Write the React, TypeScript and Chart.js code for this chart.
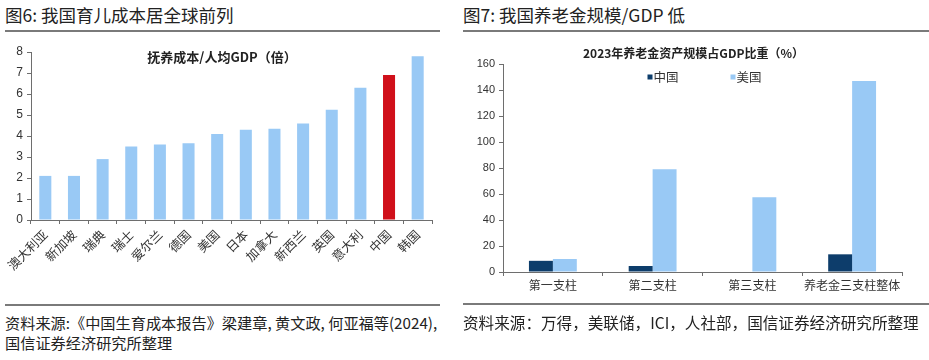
import React, { useEffect, useRef } from "react";
import { Chart, registerables } from "chart.js";

Chart.register(...registerables);

const FONT = '"Liberation Sans", "Noto Sans CJK SC", sans-serif';
const CJK = '"Noto Sans CJK SC", "Liberation Sans", sans-serif';

// Figure 6 data
const countries = ["澳大利亚", "新加坡", "瑞典", "瑞士", "爱尔兰", "德国", "美国", "日本", "加拿大", "新西兰", "英国", "意大利", "中国", "韩国"];
const costRatio = [2.1, 2.1, 2.9, 3.5, 3.6, 3.65, 4.1, 4.3, 4.35, 4.6, 5.25, 6.3, 6.9, 7.8];
const costTicks = [0, 1, 2, 3, 4, 5, 6, 7, 8];

// Figure 7 data
const pillars = ["第一支柱", "第二支柱", "第三支柱", "养老金三支柱整体"];
const chinaPension = [8.6, 4.6, 0, 13.6];
const usPension = [10, 79, 57.5, 147];
const pensionTicks = [0, 20, 40, 60, 80, 100, 120, 140, 160];

const LIGHT = "#99c9f5";
const RED = "#d0101a";
const NAVY = "#0d3d6b";
const AXIS = "#6e6e6e";
const TEXT = "#333333";

function LeftChart() {
  const ref = useRef<HTMLCanvasElement>(null);
  useEffect(() => {
    const titlePlugin = {
      id: "innerTitle",
      afterDraw(chart: any) {
        const ctx = chart.ctx;
        ctx.save();
        ctx.font = `bold 13px ${CJK}`;
        ctx.fillStyle = "#222";
        ctx.textAlign = "center";
        ctx.textBaseline = "middle";
        ctx.fillText("抚养成本/人均GDP（倍）", 222, 17);
        ctx.restore();
      },
    };
    const chart = new Chart(ref.current!, {
      type: "bar",
      data: {
        labels: countries,
        datasets: [
          {
            data: costRatio,
            backgroundColor: countries.map((c) => (c === "中国" ? RED : LIGHT)),
            barPercentage: 0.42,
            categoryPercentage: 1,
          },
        ],
      },
      options: {
        animation: false,
        responsive: false,
        maintainAspectRatio: false,
        layout: { padding: { top: 12, right: 13, left: 0, bottom: 0 } },
        plugins: { legend: { display: false }, tooltip: { enabled: false }, title: { display: false } },
        scales: {
          x: {
            grid: { display: true, drawOnChartArea: false, drawTicks: true, tickLength: 4, color: AXIS, offset: true },
            border: { display: true, color: AXIS, width: 1 },
            ticks: { minRotation: 45, maxRotation: 45, color: TEXT, font: { family: CJK, size: 12.5 }, padding: 3 },
            afterFit: (s: any) => { s.height = 80; },
          },
          y: {
            min: 0,
            max: 8,
            afterBuildTicks: (s: any) => { s.ticks = costTicks.map((v) => ({ value: v })); },
            grid: { display: true, drawOnChartArea: false, drawTicks: true, tickLength: 4, color: AXIS },
            border: { display: true, color: AXIS, width: 1 },
            ticks: { color: TEXT, font: { family: FONT, size: 12 }, padding: 4 },
            afterFit: (s: any) => { s.width = 31; },
          },
        },
      },
      plugins: [titlePlugin],
    });
    return () => chart.destroy();
  }, []);
  return <canvas ref={ref} width={445} height={260} style={{ position: "absolute", left: 0, top: 40, width: 445, height: 260 }} />;
}

function RightChart() {
  const ref = useRef<HTMLCanvasElement>(null);
  useEffect(() => {
    const overlay = {
      id: "overlay",
      afterDraw(chart: any) {
        const ctx = chart.ctx;
        const cx = (chart.chartArea.left + chart.chartArea.right) / 2;
        ctx.save();
        ctx.font = `bold 12px ${CJK}`;
        ctx.fillStyle = "#222";
        ctx.textAlign = "center";
        ctx.textBaseline = "middle";
        ctx.fillText("2023年养老金资产规模占GDP比重（%）", cx - 9, 13);
        ctx.font = `12.5px ${CJK}`;
        ctx.textAlign = "left";
        ctx.fillStyle = TEXT;
        const items = [
          { x: cx - 55, label: chart.data.datasets[0].label, color: chart.data.datasets[0].backgroundColor },
          { x: cx + 28, label: chart.data.datasets[1].label, color: chart.data.datasets[1].backgroundColor },
        ];
        for (const it of items) {
          ctx.fillStyle = it.color;
          ctx.fillRect(it.x, 37 - 2.5, 5, 5);
          ctx.fillStyle = TEXT;
          ctx.fillText(it.label, it.x + 6, 37);
        }
        ctx.restore();
      },
    };
    const chart = new Chart(ref.current!, {
      type: "bar",
      data: {
        labels: pillars,
        datasets: [
          { label: "中国", data: chinaPension, backgroundColor: NAVY, barPercentage: 1, categoryPercentage: 0.48 },
          { label: "美国", data: usPension, backgroundColor: LIGHT, barPercentage: 1, categoryPercentage: 0.48 },
        ],
      },
      options: {
        animation: false,
        responsive: false,
        maintainAspectRatio: false,
        layout: { padding: { top: 24, right: 27, left: 0, bottom: 0 } },
        plugins: { legend: { display: false }, tooltip: { enabled: false }, title: { display: false } },
        scales: {
          x: {
            grid: { display: true, drawOnChartArea: false, drawTicks: true, tickLength: 4, color: AXIS, offset: true },
            border: { display: true, color: AXIS, width: 1 },
            ticks: { maxRotation: 0, minRotation: 0, color: TEXT, font: { family: CJK, size: 12 }, padding: 2 },
            afterFit: (s: any) => { s.height = 33; },
          },
          y: {
            min: 0,
            max: 160,
            afterBuildTicks: (s: any) => { s.ticks = pensionTicks.map((v) => ({ value: v })); },
            grid: { display: true, drawOnChartArea: false, drawTicks: true, tickLength: 4, color: AXIS },
            border: { display: true, color: AXIS, width: 1 },
            ticks: { color: TEXT, font: { family: FONT, size: 11 }, padding: 4 },
            afterFit: (s: any) => { s.width = 43; },
          },
        },
      },
      plugins: [overlay],
    });
    return () => chart.destroy();
  }, []);
  return <canvas ref={ref} width={469} height={265} style={{ position: "absolute", left: 460, top: 40, width: 469, height: 265 }} />;
}

const headStyle: React.CSSProperties = {
  position: "absolute",
  fontFamily: CJK,
  fontSize: 17.5,
  color: "#222",
  whiteSpace: "nowrap",
  lineHeight: "20px",
};
const srcStyle: React.CSSProperties = {
  position: "absolute",
  fontFamily: CJK,
  fontSize: 15.2,
  color: "#222",
  whiteSpace: "nowrap",
  lineHeight: "20px",
};
const line = (left: number, top: number, width: number): React.CSSProperties => ({
  position: "absolute",
  left,
  top,
  width,
  height: 2,
  background: "#7a7a7a",
});

export default function App() {
  return (
    <div style={{ position: "absolute", left: 0, top: 0, width: 929, height: 360, background: "#fff", overflow: "hidden" }}>
      <div style={{ ...headStyle, left: 5, top: 5 }}>图6: 我国育儿成本居全球前列</div>
      <div style={line(5, 30, 435)} />
      <LeftChart />
      <div style={line(5, 304, 435)} />
      <div style={{ ...srcStyle, left: 5, top: 312 }}>资料来源:《中国生育成本报告》梁建章, 黄文政, 何亚福等(2024),</div>
      <div style={{ ...srcStyle, left: 5, top: 332 }}>国信证券经济研究所整理</div>

      <div style={{ ...headStyle, left: 463, top: 5 }}>图7: 我国养老金规模/GDP 低</div>
      <div style={line(463, 30, 466)} />
      <RightChart />
      <div style={line(463, 303, 466)} />
      <div style={{ ...srcStyle, fontSize: 15.6, left: 463, top: 312 }}>资料来源：万得，美联储，ICI，人社部，国信证券经济研究所整理</div>
    </div>
  );
}
